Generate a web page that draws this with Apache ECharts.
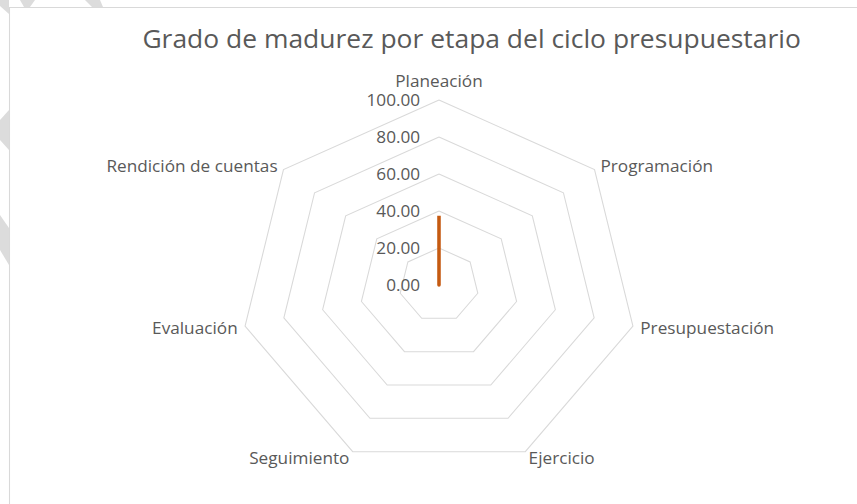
<!DOCTYPE html>
<html><head><meta charset="utf-8">
<script src="https://cdn.jsdelivr.net/npm/echarts@6/dist/echarts.min.js"></script>
<style>
html,body{margin:0;padding:0;background:#fff;overflow:hidden;width:857px;height:504px}
#c{width:797px;height:504px;transform:scaleX(1.07528);transform-origin:0 0}
</style>
</head><body><div id="c"></div>
<script>
const categories = ['Planeación','Programación','Presupuestación','Ejercicio','Seguimiento','Evaluación','Rendición de cuentas'];
const values = [37.5, 0, 0, 0, 0, 0, 0];
const axisMax = 100;
const titleText = 'Grado de madurez por etapa del ciclo presupuestario';

// the reference picture is stretched horizontally; the page is drawn narrower and stretched the same way
const S = 857 / 797;
const X = v => v / S;

// ECharts lays indicators counter-clockwise; reorder so they run clockwise like the reference
const order = [0].concat(categories.map((_, i) => i).slice(1).reverse());

const FONT = '"Open Sans", sans-serif';
const wm = pts => ({ type: 'polygon', shape: { points: pts.map(p => [X(p[0]), p[1]]) }, style: { fill: '#DCDCDC' }, silent: true });
const chart = echarts.init(document.getElementById('c'), null, { renderer: 'svg' });
chart.setOption({
  animation: false,
  backgroundColor: '#fff',
  title: { text: titleText, left: X(137), top: 21, textStyle: { fontFamily: FONT, fontSize: 24.6, fontWeight: 'normal', color: '#595959' } },
  graphic: [
    { type: 'rect', shape: { x: X(9.5), y: 7.5, width: 900, height: 600 }, style: { fill: 'none', stroke: '#D9D9D9', lineWidth: 1 }, silent: true },
    wm([[20,0],[35,0],[30,7],[24,7]]),
    wm([[85,0],[100,0],[103,7],[92,7]]),
    wm([[0,0],[9,0],[9,14],[0,6]]),
    wm([[0,120],[9,110],[9,150],[0,140]]),
    wm([[0,215],[9,228],[9,265],[0,250]])
  ],
  radar: {
    center: [X(439), 285],
    radius: 185,
    startAngle: 90,
    splitNumber: 5,
    shape: 'polygon',
    indicator: order.map((ci, i) => {
      const o = { name: categories[ci], min: 0, max: axisMax };
      if (i === 0) { o.axisLabel = { show: true }; o.nameTextStyle = { padding: [0, 0, 4, 0] }; }
      return o;
    }),
    axisName: { color: '#595959', fontFamily: FONT, fontSize: 16 },
    nameGap: 7,
    axisLine: { show: false },
    axisTick: { show: false },
    splitArea: { show: false },
    splitLine: { lineStyle: { color: '#D9D9D9', width: 1 } },
    axisLabel: { show: false, color: '#595959', fontFamily: FONT, fontSize: 16, formatter: v => Number(v).toFixed(2), margin: 17.5 }
  },
  series: [{
    type: 'radar',
    symbol: 'none',
    lineStyle: { color: '#C55A11', width: 3.3 },
    itemStyle: { color: '#C55A11' },
    data: [{ value: order.map(i => values[i]) }]
  }]
});
</script></body></html>
